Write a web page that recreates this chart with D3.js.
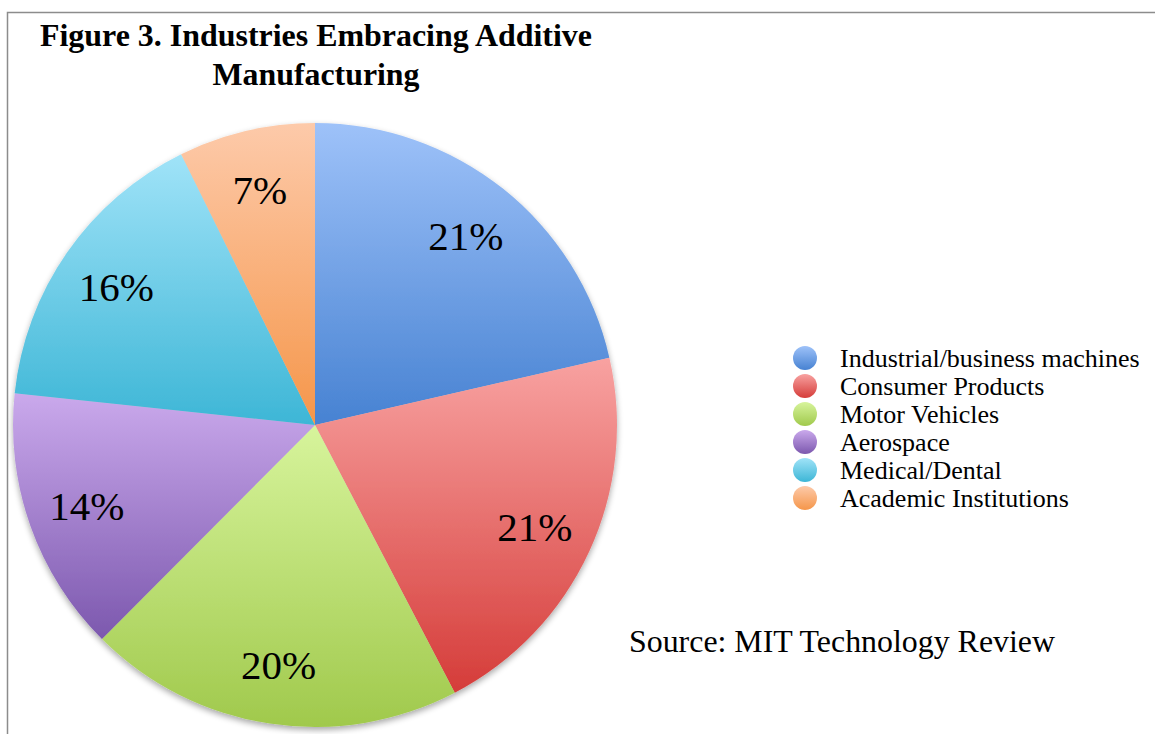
<!DOCTYPE html>
<html><head><meta charset="utf-8">
<script src="https://cdn.jsdelivr.net/npm/d3@7"></script>
<style>body{margin:0;background:#fff}svg{display:block}</style>
</head><body>
<svg id="c" width="1155" height="734"></svg>
<script>
const categories = ["Industrial/business machines","Consumer Products","Motor Vehicles","Aerospace","Medical/Dental","Academic Institutions"];
const values = [21.4, 20.9, 20.1, 14.2, 16.0, 7.3];
const labels = ["21%","21%","20%","14%","16%","7%"];
const topColors = ["#9ec2f9","#f8a2a1","#d7f49c","#caa9ec","#a0e3f8","#fdcaaa"];
const bottomColors = ["#4782d2","#d53c39","#a0c94c","#7c58ae","#3db6d6","#f5964a"];
const titleLines = ["Figure 3. Industries Embracing Additive","Manufacturing"];
const sourceText = "Source: MIT Technology Review";

const serif = "'Liberation Serif','Times New Roman',Times,serif";
const svg = d3.select("#c");
const defs = svg.append("defs");
categories.forEach((c,i)=>{
  const g = defs.append("linearGradient").attr("id","g"+i).attr("x1",0).attr("y1",0).attr("x2",0).attr("y2",1);
  g.append("stop").attr("offset","0%").attr("stop-color",topColors[i]);
  g.append("stop").attr("offset","100%").attr("stop-color",bottomColors[i]);
});
const f = defs.append("filter").attr("id","sh").attr("x","-10%").attr("y","-10%").attr("width","120%").attr("height","120%");
f.append("feGaussianBlur").attr("in","SourceAlpha").attr("stdDeviation",3);
f.append("feOffset").attr("dx",0).attr("dy",3).attr("result","b");
f.append("feComponentTransfer").append("feFuncA").attr("type","linear").attr("slope",0.35);
const m = f.append("feMerge"); m.append("feMergeNode"); m.append("feMergeNode").attr("in","SourceGraphic");

// frame
svg.append("path").attr("d","M7.5,734 V12.5 H1155").attr("fill","none").attr("stroke","#8c8c8c").attr("stroke-width",1.5);

// title
const titleWidths = [552, 207];
svg.selectAll("text.title").data(titleLines).join("text").attr("class","title")
  .attr("x",316).attr("y",(d,i)=>46+i*39).attr("text-anchor","middle")
  .attr("font-family",serif).attr("font-weight","bold")
  .attr("font-size",31).attr("fill","#000")
  .attr("textLength",(d,i)=>titleWidths[i]).attr("lengthAdjust","spacingAndGlyphs")
  .text(d=>d);

const cx = 315, cy = 425, R = 302;
const pie = d3.pie().sort(null).value(d=>d);
const arcs = pie(values);
const arc = d3.arc().innerRadius(0).outerRadius(R);
const labelArc = d3.arc().innerRadius(242).outerRadius(242);
const g = svg.append("g").attr("transform",`translate(${cx},${cy})`);
g.append("g").attr("filter","url(#sh)").selectAll("path").data(arcs).join("path")
  .attr("d",arc).attr("fill",(d,i)=>`url(#g${i})`);
g.selectAll("text").data(arcs).join("text")
  .attr("transform",d=>`translate(${labelArc.centroid(d)})`)
  .attr("text-anchor","middle").attr("dy","0.35em")
  .attr("font-family",serif).attr("font-size",41).attr("fill","#000")
  .text((d,i)=>labels[i]);

// legend
const lg = svg.append("g");
const rows = lg.selectAll("g").data(categories).join("g").attr("transform",(d,i)=>`translate(805,${358+i*28})`);
rows.append("circle").attr("r",12).attr("fill",(d,i)=>`url(#g${i})`);
rows.append("text").attr("x",35).attr("dy","0.35em")
  .attr("font-family",serif).attr("font-size",26).attr("fill","#000").text(d=>d);

svg.append("text").attr("x",629).attr("y",652)
  .attr("font-family",serif).attr("font-size",32).attr("fill","#000")
  .attr("textLength",426).attr("lengthAdjust","spacingAndGlyphs").text(sourceText);
</script>
</body></html>
